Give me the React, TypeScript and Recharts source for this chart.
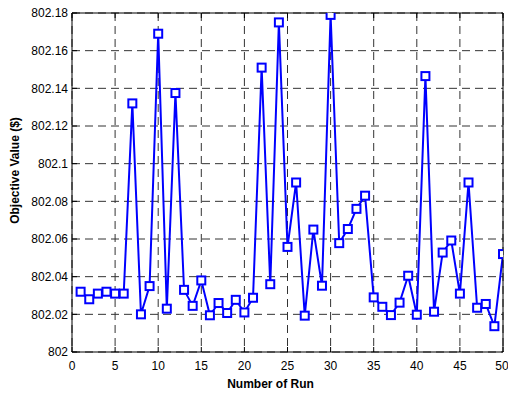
import React from 'react';
import { LineChart, Line, XAxis, YAxis, CartesianGrid } from 'recharts';

const runs: number[] = Array.from({ length: 50 }, (_, i) => i + 1);
const objectiveValues: number[] = [
  802.032, 802.028, 802.031, 802.032, 802.031, 802.031, 802.132, 802.020, 802.035, 802.169,
  802.023, 802.1375, 802.033, 802.0245, 802.038, 802.0195, 802.026, 802.0207, 802.0277, 802.021,
  802.0288, 802.151, 802.036, 802.175, 802.0558, 802.090, 802.0193, 802.065, 802.0352, 802.179,
  802.0578, 802.0653, 802.076, 802.083, 802.029, 802.024, 802.0196, 802.0262, 802.0405, 802.0198,
  802.1465, 802.0214, 802.0528, 802.0592, 802.031, 802.090, 802.0235, 802.0255, 802.0137, 802.052,
];
const xTicks: number[] = [0, 5, 10, 15, 20, 25, 30, 35, 40, 45, 50];
const yTicks: number[] = [802, 802.02, 802.04, 802.06, 802.08, 802.1, 802.12, 802.14, 802.16, 802.18];
const xLabel = 'Number of Run';
const yLabel = 'Objective Value ($)';

const data = runs.map((r, i) => ({ run: r, value: objectiveValues[i] }));

const FONT = "'Liberation Sans', Arial, Helvetica, sans-serif";
const BLUE = '#0000ff';

const SquareDot = (props: any) => {
  const { cx, cy, index } = props;
  if (cx == null || cy == null) return null;
  return (
    <rect
      key={`dot-${index}`}
      x={cx - 4}
      y={cy - 4}
      width={8}
      height={8}
      fill="#ffffff"
      stroke={BLUE}
      strokeWidth={2}
    />
  );
};

const fmtY = (v: number) => String(parseFloat(v.toFixed(2)));

const YLabelContent = (props: any) => {
  const { viewBox } = props;
  const cx = 19;
  const cy = viewBox.y + viewBox.height / 2 - 12;
  return (
    <text
      x={cx}
      y={cy}
      transform={`rotate(-90, ${cx}, ${cy})`}
      textAnchor="middle"
      fontFamily={FONT}
      fontSize={12}
      fontWeight="bold"
      fill="#000"
    >
      {yLabel}
    </text>
  );
};

const XLabelContent = (props: any) => {
  const { viewBox } = props;
  const cx = viewBox.x + viewBox.width / 2 - 17;
  return (
    <text
      x={cx}
      y={388}
      textAnchor="middle"
      fontFamily={FONT}
      fontSize={12}
      fontWeight="bold"
      fill="#000"
    >
      {xLabel}
    </text>
  );
};

export default function App() {
  return (
    <div style={{ position: 'absolute', left: 0, top: 0, width: 508, height: 394, background: '#fff' }}>
      <LineChart
        width={508}
        height={394}
        data={data}
        margin={{ top: 13, right: 5, bottom: 0, left: 0 }}
      >
        <CartesianGrid stroke="#333" strokeDasharray="8 5" strokeWidth={1} />
        <XAxis
          dataKey="run"
          type="number"
          domain={[0, 50]}
          ticks={xTicks}
          allowDataOverflow
          height={42}
          stroke="#000"
          tickSize={-5}
          tickMargin={14}
          tick={{ fill: '#000', fontSize: 12, fontFamily: FONT }}
          label={<XLabelContent />}
        />
        <XAxis
          xAxisId="top"
          dataKey="run"
          type="number"
          orientation="top"
          mirror
          domain={[0, 50]}
          ticks={xTicks}
          stroke="#000"
          tickSize={5}
          tickFormatter={() => ''}
        />
        <YAxis
          type="number"
          domain={[802, 802.18]}
          ticks={yTicks}
          allowDataOverflow
          width={72}
          stroke="#000"
          tickSize={-5}
          tickMargin={9}
          tickFormatter={fmtY}
          tick={{ fill: '#000', fontSize: 12, fontFamily: FONT }}
          label={<YLabelContent />}
        />
        <YAxis
          yAxisId="right"
          type="number"
          orientation="right"
          mirror
          domain={[802, 802.18]}
          ticks={yTicks}
          stroke="#000"
          tickSize={5}
          tickFormatter={() => ''}
        />
        <Line
          type="linear"
          dataKey="value"
          stroke={BLUE}
          strokeWidth={2}
          dot={<SquareDot />}
          activeDot={false}
          isAnimationActive={false}
        />
      </LineChart>
    </div>
  );
}
